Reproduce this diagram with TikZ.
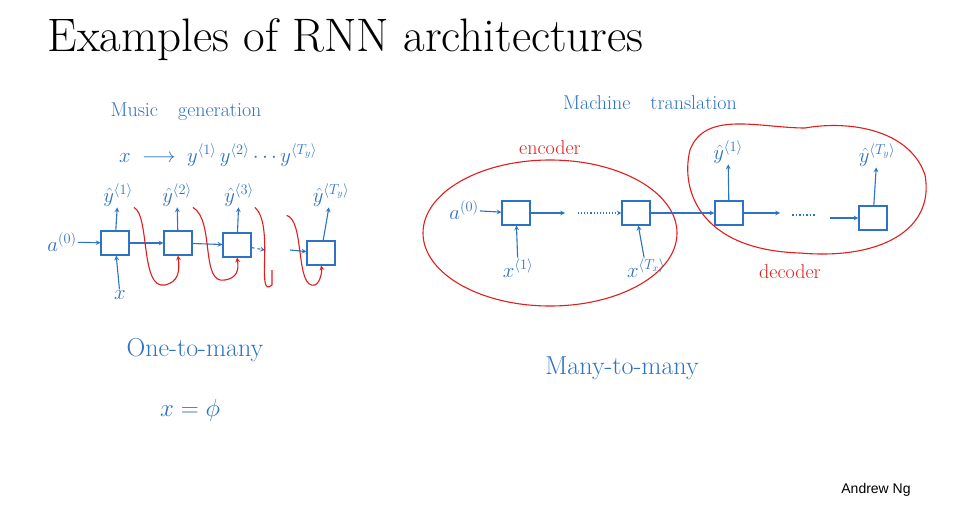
\documentclass[tikz,border=0pt]{standalone}
\usepackage{fontspec}
\newfontfamily\sansf{Liberation Sans}
\begin{document}
\begin{tikzpicture}[x=1pt,y=-1pt,
  ink/.style={draw=inkb,line width=1.1pt},
  lab/.style={text=inkb,font=\fontsize{20}{22}\selectfont,inner sep=1pt},
  cell/.style={draw=inkb,line width=1.1pt,minimum width=28pt,minimum height=24pt,inner sep=0pt},
  arr/.style={draw=inkb,line width=1.1pt,->,>=stealth},
  rarr/.style={draw=inkr,line width=1.1pt,->,>=stealth},
  blob/.style={draw=inkr,line width=1.1pt}]
\definecolor{inkb}{RGB}{45,115,195}
\definecolor{inkr}{RGB}{225,30,30}
\useasboundingbox (0,0) rectangle (957,506);
\fill[white] (0,0) rectangle (957,506);
\node[anchor=west,font=\fontsize{47}{50}\selectfont] (title) at (44,40) {Examples of RNN architectures};
% left
\node[lab] (mg) at (186,112) {Music\quad generation};
\node[lab] (seq) at (218,155) {$x \;\longrightarrow\; y^{\langle 1\rangle}\, y^{\langle 2\rangle}\cdots y^{\langle T_y\rangle}$};
\node[cell] (b1) at (115,243) {};
\node[cell] (b2) at (178,243) {};
\node[cell] (b3) at (237,245) {};
\node[cell] (b4) at (321,253) {};
\node[lab] (a0) at (62,242) {$a^{(0)}$};
\node[lab] (x1) at (120,295) {$x$};
\node[lab] (y1) at (118,195) {$\hat y^{\langle 1\rangle}$};
\node[lab] (y2) at (177,195) {$\hat y^{\langle 2\rangle}$};
\node[lab] (y3) at (239,195) {$\hat y^{\langle 3\rangle}$};
\node[lab] (y4) at (331,195) {$\hat y^{\langle T_y\rangle}$};
\coordinate (d1) at (265,250);
\coordinate (d2) at (290,250);
\draw[arr] (a0) -- (b1);
\draw[arr] (x1) -- (b1);
\draw[arr] (b1) -- (b2);
\draw[arr] (b2) -- (b3);
\draw[arr,dashed] (b3) -- (d1);
\draw[arr] (d2) -- (b4);
\foreach \b/\y in {b1/y1,b2/y2,b3/y3,b4/y4} \draw[arr] (\b) -- (\y);
\draw[rarr] (y1.south east) .. controls (150,215) and (140,290) .. (165,285) .. controls (178,282) and (180,272) .. (b2.south);
\draw[rarr] (y2.south east) .. controls (215,220) and (200,285) .. (225,280) .. controls (237,278) and (239,270) .. (b3.south);
\draw[blob] (y3.south east) .. controls (275,225) and (255,300) .. (272,285) -- (272,270);
\draw[rarr] (y4.south west) ++(-25,8) .. controls (305,220) and (295,290) .. (315,285) .. controls (321,282) and (322,270) .. (b4.south);
\node[lab,font=\fontsize{26}{28}\selectfont] (otm) at (195,350) {One-to-many};
\node[lab,font=\fontsize{26}{28}\selectfont] (xphi) at (190,410) {$x = \phi$};
% right
\node[lab] (mt) at (650,103) {Machine\quad translation};
\node[lab,text=inkr] (enc) at (550,148) {encoder};
\node[lab,text=inkr] (dec) at (790,272) {decoder};
\draw[blob] (550,233) ellipse [x radius=127, y radius=73];
\draw[blob] (690,150) .. controls (705,110) and (760,128) .. (805,128) .. controls (850,120) and (910,130) .. (925,175) .. controls (935,230) and (880,260) .. (800,253) .. controls (700,250) and (680,190) .. (690,150) -- cycle;
\node[cell] (e1) at (516,213) {};
\node[cell] (e2) at (636,213) {};
\node[cell] (f1) at (729,213) {};
\node[cell] (f2) at (873,218) {};
\node[lab] (ea0) at (464,210) {$a^{(0)}$};
\node[lab] (ex1) at (518,268) {$x^{\langle 1\rangle}$};
\node[lab] (ex2) at (646,268) {$x^{\langle T_x\rangle}$};
\node[lab] (fy1) at (728,152) {$\hat y^{\langle 1\rangle}$};
\node[lab] (fy2) at (877,155) {$\hat y^{\langle T_y\rangle}$};
\coordinate (ed1) at (565,213); \coordinate (ed2) at (578,213);
\coordinate (fd1) at (780,213); \coordinate (fd2) at (830,218);
\draw[arr] (e1) -- (ed1);
\draw[arr] (ea0) -- (e1);
\draw[arr,dotted] (ed2) -- (e2);
\draw[arr] (e2) -- (f1);
\draw[arr] (f1) -- (fd1);
\draw[inkb,line width=1.5pt,dotted] (fd1) ++(12,2) -- ++(24,0);
\draw[arr] (fd2) -- (f2);
\draw[arr] (ex1) -- (e1);
\draw[arr] (ex2) -- (e2);
\draw[arr] (f1) -- (fy1);
\draw[arr] (f2) -- (fy2);
\node[lab,font=\fontsize{26}{28}\selectfont] (mtm) at (622,368) {Many-to-many};
\node[font=\sansf\fontsize{14}{16}\selectfont] (ng) at (876,490) {Andrew Ng};
\end{tikzpicture}
\end{document}
